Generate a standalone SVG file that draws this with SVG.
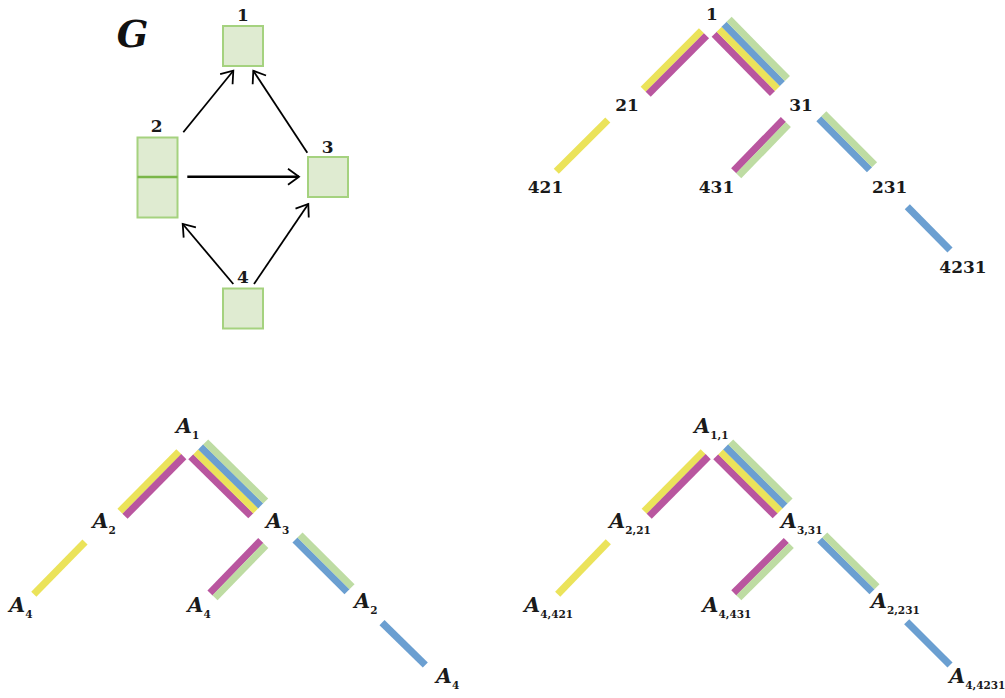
<svg xmlns="http://www.w3.org/2000/svg" width="1005" height="698" viewBox="0 0 1005 698">
<style>
.num{font-family:"DejaVu Serif","Liberation Serif",serif;font-weight:bold;font-size:17px;fill:#1a1a1a;text-anchor:middle}
.a{font-family:"DejaVu Serif","Liberation Serif",serif;font-weight:bold;font-style:italic;font-size:20.5px;fill:#1a1a1a}
.sub{font-style:normal;font-size:10.5px}
.box{fill:#dfebd1;stroke:#a5d27f;stroke-width:2}
.div{stroke:#7ab648;stroke-width:2.5}
.arr{stroke:#000;stroke-width:1.8;fill:none;marker-end:url(#ah)}
.s{stroke-width:7.2;stroke-linecap:butt;fill:none}
.y{stroke:#ebe35a}
.m{stroke:#b9569f}
.b{stroke:#6b9fd1}
.g{stroke:#bedca3}
</style>
<defs>
<marker id="ah" markerUnits="userSpaceOnUse" markerWidth="16" markerHeight="20" refX="0" refY="0" viewBox="-13 -10 16 20" orient="auto">
<path d="M-11,-8 L0,0 L-11,8" fill="none" stroke="#000" stroke-width="1.8" stroke-linejoin="miter"/>
</marker>
</defs>
<rect width="1005" height="698" fill="#fff"/>

<!-- Graph G -->
<text id="G" x="132.5" y="46.7" text-anchor="middle" font-family="'DejaVu Serif','Liberation Serif',serif" font-weight="bold" font-style="italic" font-size="37" fill="#111">G</text>
<g id="gn1"><rect class="box" x="223" y="26" width="40" height="40"/><text class="num" x="243" y="20.7">1</text></g>
<g id="gn2"><rect class="box" x="137.5" y="137.5" width="40" height="80"/><line class="div" x1="137.5" y1="177" x2="177.5" y2="177"/><text class="num" x="156.7" y="132.3">2</text></g>
<g id="gn3"><rect class="box" x="308" y="157" width="40" height="40"/><text class="num" x="327.7" y="153.3">3</text></g>
<g id="gn4"><rect class="box" x="223" y="288.5" width="40" height="40"/><text class="num" x="243" y="283.3">4</text></g>
<g id="gedges">
<line class="arr" x1="183.3" y1="132.3" x2="233.3" y2="70.7"/>
<line class="arr" x1="307.3" y1="152.7" x2="253.3" y2="70.7"/>
<line class="arr" x1="187.3" y1="176.7" x2="299" y2="176.7" style="stroke-width:2.4"/>
<line class="arr" x1="233.3" y1="284" x2="182.7" y2="224"/>
<line class="arr" x1="254" y1="284" x2="308.3" y2="204"/>
</g>

<!-- Connectors of the three trees -->
<g id="tree-connectors">
<!-- top-right -->
<g id="t1-e1-21"><line class="s y" x1="701.5" y1="30.8" x2="643.2" y2="89.2"/><line class="s m" x1="706.5" y1="35.8" x2="648.2" y2="94.2"/></g>
<g id="t1-e1-31"><line class="s m" x1="714.2" y1="34.2" x2="772.5" y2="93.5"/><line class="s y" x1="719.2" y1="29.2" x2="777.5" y2="88.5"/><line class="s b" x1="724.1" y1="24.3" x2="782.4" y2="83.6"/><line class="s g" x1="729.1" y1="19.3" x2="787.4" y2="78.6"/></g>
<g id="t1-e31-431"><line class="s m" x1="783.4" y1="119.5" x2="733.7" y2="170.8"/><line class="s g" x1="788.3" y1="124.5" x2="738.7" y2="175.8"/></g>
<g id="t1-e31-231"><line class="s b" x1="818.9" y1="118.7" x2="869.5" y2="169.7"/><line class="s g" x1="823.8" y1="113.7" x2="874.5" y2="164.7"/></g>
<g id="t1-e21-421"><line class="s y" x1="607.8" y1="120" x2="556.3" y2="171.2"/></g>
<g id="t1-e231-4231"><line class="s b" x1="907.3" y1="206.7" x2="950" y2="250"/></g>
<!-- bottom-left -->
<g id="t2-e1-2"><line class="s y" x1="178.9" y1="451.7" x2="120" y2="511.3"/><line class="s m" x1="183.8" y1="456.6" x2="125" y2="516.3"/></g>
<g id="t2-e1-3"><line class="s m" x1="190.8" y1="456.8" x2="250.8" y2="515.8"/><line class="s y" x1="195.75" y1="451.85" x2="255.75" y2="510.85"/><line class="s b" x1="200.7" y1="446.9" x2="260.7" y2="505.9"/><line class="s g" x1="205.65" y1="441.95" x2="265.65" y2="500.95"/></g>
<g id="t2-e3-4"><line class="s m" x1="260.8" y1="540.5" x2="210" y2="592.9"/><line class="s g" x1="265.8" y1="545.5" x2="215" y2="597.8"/></g>
<g id="t2-e3-2"><line class="s b" x1="295" y1="540" x2="347" y2="591.7"/><line class="s g" x1="300" y1="535" x2="352" y2="586.7"/></g>
<g id="t2-e2-4"><line class="s y" x1="85" y1="542" x2="33.8" y2="594.3"/></g>
<g id="t2-e2-4b"><line class="s b" x1="382" y1="622.7" x2="425.3" y2="665"/></g>
<!-- bottom-right -->
<g id="t3-e11-221"><line class="s y" x1="703.2" y1="451.7" x2="644.2" y2="511.3"/><line class="s m" x1="708.2" y1="456.6" x2="649.2" y2="516.3"/></g>
<g id="t3-e11-331"><line class="s m" x1="715.8" y1="456.8" x2="775.2" y2="515.8"/><line class="s y" x1="720.75" y1="451.85" x2="780.15" y2="510.85"/><line class="s b" x1="725.7" y1="446.9" x2="785.1" y2="505.9"/><line class="s g" x1="730.65" y1="441.95" x2="790.05" y2="500.95"/></g>
<g id="t3-e331-4431"><line class="s m" x1="786.3" y1="540.5" x2="733.8" y2="592.9"/><line class="s g" x1="791.3" y1="545.5" x2="738.8" y2="597.8"/></g>
<g id="t3-e331-2231"><line class="s b" x1="819.7" y1="540" x2="872" y2="591.7"/><line class="s g" x1="824.7" y1="535" x2="877" y2="586.7"/></g>
<g id="t3-e221-4421"><line class="s y" x1="608.3" y1="541.7" x2="557.7" y2="594.3"/></g>
<g id="t3-e2231-44231"><line class="s b" x1="906.7" y1="621.7" x2="950" y2="665"/></g>
</g>

<!-- top-right tree nodes -->
<g id="t1-n1"><text class="num" x="712" y="20">1</text></g>
<g id="t1-n21"><text class="num" x="627" y="110.7">21</text></g>
<g id="t1-n31"><text class="num" x="801" y="110.7">31</text></g>
<g id="t1-n421"><text class="num" x="545.5" y="193.3">421</text></g>
<g id="t1-n431"><text class="num" x="716.5" y="193.3">431</text></g>
<g id="t1-n231"><text class="num" x="889.7" y="193.3">231</text></g>
<g id="t1-n4231"><text class="num" x="963" y="273.3">4231</text></g>

<!-- bottom-left tree nodes -->
<g id="t2-n1"><text class="a" x="176" y="433.3">A<tspan class="sub" dy="6">1</tspan></text></g>
<g id="t2-n2"><text class="a" x="92.6" y="528.3">A<tspan class="sub" dy="6">2</tspan></text></g>
<g id="t2-n3"><text class="a" x="266" y="528.3">A<tspan class="sub" dy="6">3</tspan></text></g>
<g id="t2-n4a"><text class="a" x="9.3" y="611.7">A<tspan class="sub" dy="6">4</tspan></text></g>
<g id="t2-n4b"><text class="a" x="187.6" y="611.7">A<tspan class="sub" dy="6">4</tspan></text></g>
<g id="t2-n2b"><text class="a" x="354.3" y="608.3">A<tspan class="sub" dy="6">2</tspan></text></g>
<g id="t2-n4c"><text class="a" x="436" y="683.3">A<tspan class="sub" dy="6">4</tspan></text></g>

<!-- bottom-right tree nodes -->
<g id="t3-n11"><text class="a" x="694.3" y="433.3">A<tspan class="sub" dy="6">1,1</tspan></text></g>
<g id="t3-n221"><text class="a" x="609.3" y="528.3">A<tspan class="sub" dy="6">2,21</tspan></text></g>
<g id="t3-n331"><text class="a" x="781" y="528.3">A<tspan class="sub" dy="6">3,31</tspan></text></g>
<g id="t3-n4421"><text class="a" x="524.3" y="611.7">A<tspan class="sub" dy="6">4,421</tspan></text></g>
<g id="t3-n4431"><text class="a" x="702.6" y="611.7">A<tspan class="sub" dy="6">4,431</tspan></text></g>
<g id="t3-n2231"><text class="a" x="871" y="608.3">A<tspan class="sub" dy="6">2,231</tspan></text></g>
<g id="t3-n44231"><text class="a" x="949.3" y="683.3">A<tspan class="sub" dy="6">4,4231</tspan></text></g>
</svg>
